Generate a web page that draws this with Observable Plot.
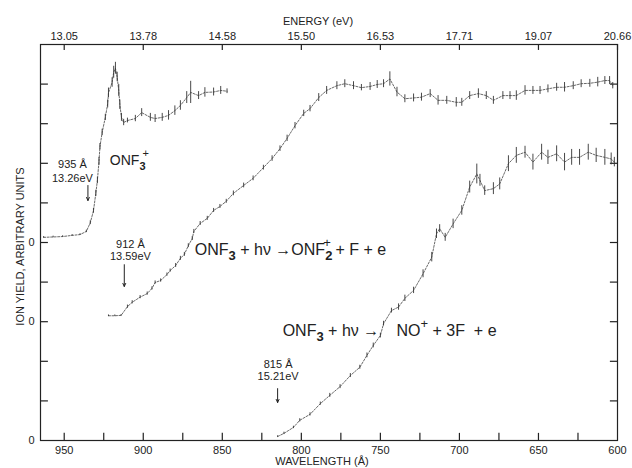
<!DOCTYPE html>
<html>
<head>
<meta charset="utf-8">
<script src="https://cdn.jsdelivr.net/npm/d3@7"></script>
<script src="https://cdn.jsdelivr.net/npm/@observablehq/plot@0.6"></script>
<style>
  body { margin: 0; background: #fff; }
  svg { display: block; }
</style>
</head>
<body>
<div id="chart"></div>
<script>
// ---------- data (wavelength in Å, ion yield in arbitrary units, offset curves) ----------
const onf3Wavelength = [963, 957, 951, 945, 940, 936, 933.5, 931.5, 930, 929, 928, 927.4, 926, 924, 922.5, 922, 919.7, 918.7, 917.6, 916.5, 915.5, 914.8, 913.8, 912.4, 910, 905, 901, 895.5, 892.5, 888, 884, 880, 876.5, 872.5, 870, 865, 861, 855.5, 851, 847];
const onf3Yield = [5.13, 5.14, 5.15, 5.18, 5.20, 5.28, 5.50, 5.80, 6.24, 6.57, 7.05, 7.42, 7.78, 8.16, 8.50, 8.78, 9.04, 9.30, 9.40, 9.18, 8.84, 8.48, 8.16, 8.03, 8.08, 8.13, 8.28, 8.16, 8.13, 8.16, 8.21, 8.33, 8.46, 8.66, 8.79, 8.71, 8.79, 8.80, 8.84, 8.82];
const onf3Err = [0.02, 0.02, 0.02, 0.02, 0.02, 0.03, 0.05, 0.06, 0.08, 0.08, 0.1, 0.08, 0.08, 0.08, 0.1, 0.12, 0.12, 0.15, 0.15, 0.12, 0.15, 0.12, 0.1, 0.08, 0.06, 0.08, 0.1, 0.1, 0.1, 0.1, 0.12, 0.12, 0.12, 0.15, 0.28, 0.1, 0.12, 0.1, 0.1, 0.06];

const onf2Wavelength = [922, 918, 914, 910, 907, 902, 897.5, 894.5, 892.5, 889, 885, 883, 879.5, 876.5, 874, 871.5, 869, 868, 864, 859.5, 855.5, 851.5, 847.5, 843, 836.5, 830.5, 824, 818.5, 813.5, 809, 804, 798.5, 794.5, 789, 784, 777.5, 772.5, 767, 762, 756.5, 752, 748, 744, 739.5, 734.5, 729, 724, 718.5, 713.5, 708, 702, 698.5, 693.5, 688, 683, 678.5, 672.5, 668, 664, 658.5, 653.5, 649, 644, 638.5, 633.5, 628, 623, 617.5, 612.5, 608, 605, 603];
const onf2Yield = [3.15, 3.15, 3.16, 3.38, 3.49, 3.62, 3.71, 3.84, 3.99, 4.04, 4.19, 4.29, 4.42, 4.60, 4.70, 4.92, 5.10, 5.28, 5.48, 5.61, 5.81, 5.91, 6.04, 6.24, 6.44, 6.62, 6.89, 7.12, 7.37, 7.63, 7.95, 8.26, 8.38, 8.66, 8.84, 8.96, 9.01, 8.96, 8.91, 8.94, 8.99, 9.01, 9.13, 8.80, 8.63, 8.65, 8.67, 8.76, 8.59, 8.59, 8.54, 8.54, 8.71, 8.76, 8.71, 8.59, 8.71, 8.71, 8.71, 8.84, 8.84, 8.84, 8.88, 8.92, 8.92, 8.96, 9.01, 9.02, 9.05, 9.09, 9.09, 8.96];
const onf2Err = [0.02, 0.02, 0.02, 0.04, 0.04, 0.04, 0.04, 0.04, 0.04, 0.04, 0.04, 0.04, 0.05, 0.05, 0.05, 0.05, 0.05, 0.05, 0.05, 0.05, 0.05, 0.05, 0.05, 0.06, 0.06, 0.06, 0.06, 0.07, 0.07, 0.08, 0.08, 0.08, 0.08, 0.1, 0.1, 0.1, 0.1, 0.1, 0.08, 0.1, 0.1, 0.1, 0.18, 0.12, 0.1, 0.1, 0.1, 0.1, 0.12, 0.1, 0.12, 0.1, 0.1, 0.12, 0.1, 0.1, 0.1, 0.1, 0.12, 0.12, 0.1, 0.1, 0.1, 0.1, 0.12, 0.1, 0.1, 0.1, 0.12, 0.1, 0.1, 0.08];

const noWavelength = [815, 811, 805, 801, 794.5, 788, 782, 775.5, 769, 763, 758.5, 754.5, 750, 748, 743, 738.5, 734.5, 729, 723, 717.5, 714.5, 712.5, 709, 704, 698.5, 693.5, 689, 687, 684, 678.5, 674.5, 669, 664, 658.5, 653.5, 648, 644, 638.5, 633.5, 629, 624, 618.5, 613.5, 608, 604, 602];
const noYield = [0.10, 0.18, 0.33, 0.51, 0.66, 0.93, 1.14, 1.36, 1.64, 1.85, 2.15, 2.40, 2.65, 2.95, 3.28, 3.37, 3.59, 3.79, 4.21, 4.63, 5.22, 5.35, 5.13, 5.47, 5.81, 6.40, 6.73, 6.57, 6.31, 6.36, 6.48, 6.99, 7.20, 7.28, 7.03, 7.28, 7.15, 7.24, 7.03, 7.15, 7.15, 7.28, 7.20, 7.15, 7.11, 7.03];
const noErr = [0.02, 0.03, 0.03, 0.04, 0.04, 0.04, 0.05, 0.05, 0.05, 0.05, 0.06, 0.06, 0.06, 0.06, 0.06, 0.08, 0.08, 0.08, 0.1, 0.12, 0.12, 0.1, 0.1, 0.12, 0.12, 0.15, 0.25, 0.15, 0.12, 0.15, 0.15, 0.2, 0.2, 0.15, 0.2, 0.2, 0.18, 0.2, 0.22, 0.2, 0.2, 0.2, 0.18, 0.2, 0.15, 0.12];

// axes
const wavelengthTicks = [950, 900, 850, 800, 750, 700, 650, 600];
const wavelengthMinorTicks = [950, 925, 900, 875, 850, 825, 800, 775, 750, 725, 700, 675, 650, 625];
const energyLabels = ["13.05", "13.78", "14.58", "15.50", "16.53", "17.71", "19.07", "20.66"];
const yTicks = [1, 2, 3, 4, 5, 6, 7, 8, 9];
const zeroTicks = [0, 3, 5];

// onset annotations
const onsetWavelengths = [935, 912, 815];
const onsetLabels = ["935 Å", "912 Å", "815 Å"];
const onsetEnergies = ["13.26eV", "13.59eV", "15.21eV"];
const arrowTop = [6.44, 4.44, 1.31];
const arrowBottom = [6.06, 3.89, 0.96];
const onsetLabelWavelength = [944.8, 908.1, 814.7];
const onsetLabelLine1 = [6.89, 4.87, 1.84];
const onsetLabelLine2 = [6.54, 4.55, 1.52];

// ---------- tables ----------
const mk = (W, U, E) => W.map((w, i) => ({w, u: U[i], e: E[i]}));
const curves = [mk(onf3Wavelength, onf3Yield, onf3Err), mk(onf2Wavelength, onf2Yield, onf2Err), mk(noWavelength, noYield, noErr)];
const onsets = onsetWavelengths.map((w, i) => ({
  w, top: arrowTop[i], bottom: arrowBottom[i],
  lw: onsetLabelWavelength[i], l1: onsetLabels[i], l2: onsetEnergies[i],
  y1: onsetLabelLine1[i], y2: onsetLabelLine2[i]
}));

const ink = "#222";
const font = "'Liberation Sans', Arial, sans-serif";
const xMin = 965, xMax = 600, yMin = 0, yMax = 10;
// inward tick lengths, in data units
const tickLenBottom = 0.18, tickLenTop = 0.15, tickLenLeft = 5, tickLenRight = 4.5;

const curveMarks = curves.flatMap(data => [
  Plot.line(data, {x: "w", y: "u", stroke: "#444", strokeWidth: 0.8, strokeDasharray: "2,1.5"}),
  Plot.ruleX(data, {x: "w", y1: d => d.u - d.e, y2: d => d.u + d.e, stroke: "#333", strokeWidth: 0.9})
]);

const plot = Plot.plot({
  width: 632, height: 468,
  marginLeft: 40, marginRight: 15, marginTop: 44, marginBottom: 28,
  style: {fontFamily: font, fontSize: "11px", color: ink, background: "#fff"},
  x: {domain: [xMin, xMax]},
  y: {domain: [yMin, yMax]},
  marks: [
    Plot.frame({stroke: ink, strokeWidth: 1.2}),
    // inward tick marks on all four sides
    Plot.ruleX(wavelengthMinorTicks, {x: d => d, y1: () => yMin, y2: () => yMin + tickLenBottom, stroke: ink, strokeWidth: 1.2}),
    Plot.ruleX(wavelengthTicks, {x: d => d, y1: () => yMax, y2: () => yMax - tickLenTop, stroke: ink, strokeWidth: 1.2}),
    Plot.ruleY(yTicks, {y: d => d, x1: () => xMin, x2: () => xMin - tickLenLeft, stroke: ink, strokeWidth: 1.2}),
    Plot.ruleY(yTicks, {y: d => d, x1: () => xMax, x2: () => xMax + tickLenRight, stroke: ink, strokeWidth: 1.2}),
    // tick labels
    Plot.axisX({anchor: "bottom", ticks: wavelengthTicks, tickSize: 0, tickPadding: 6, label: null, tickFormat: d => String(d)}),
    Plot.axisX({anchor: "top", ticks: wavelengthTicks, tickSize: 0, tickPadding: 5, label: null,
      tickFormat: d => energyLabels[wavelengthTicks.indexOf(d)]}),
    Plot.axisY({anchor: "left", ticks: zeroTicks, tickSize: 0, tickPadding: 6, label: null, tickFormat: () => "0"}),
    ...curveMarks,
    Plot.arrow(onsets, {x: "w", y1: "top", y2: "bottom", stroke: ink, strokeWidth: 1, headLength: 5, headAngle: 50}),
    Plot.text(onsets, {x: "lw", y: "y1", text: "l1", lineAnchor: "bottom", fontSize: 11, fill: ink}),
    Plot.text(onsets, {x: "lw", y: "y2", text: "l2", lineAnchor: "bottom", fontSize: 11, fill: ink}),
    Plot.text(["ENERGY (eV)"], {frameAnchor: "top", lineAnchor: "middle", dy: -23, dx: -11, text: d => d, fontSize: 11, fill: ink}),
    Plot.text(["WAVELENGTH (Å)"], {frameAnchor: "bottom", lineAnchor: "middle", dy: 21, dx: -7, text: d => d, fontSize: 11, fill: ink}),
    Plot.text(["ION YIELD, ARBITRARY UNITS"], {frameAnchor: "left", textAnchor: "middle", lineAnchor: "middle", dx: -20, dy: 4, rotate: -90, text: d => d, fontSize: 11, fill: ink})
  ]
});

document.getElementById("chart").appendChild(plot);

// ---------- rich-text reaction labels (sub/superscripts) ----------
const equations = [
  {w: 920.8, u: 6.94, size: 14, parts: [["ONF"], ["3", "sub"], ["+", "sup", -3]]},
  {w: 867.1, u: 4.67, size: 16, parts: [["ONF"], ["3", "sub"], [" + h\u03bd "], ["\u2192"], ["ONF"], ["2", "sub"], ["+", "sup", -9], [" + F + e"]]},
  {w: 811.5, u: 2.63, size: 16, parts: [["ONF"], ["3", "sub"], [" + h\u03bd \u2192"]]},
  {w: 739.5, u: 2.63, size: 16, parts: [["NO"], ["+", "sup"], [" + 3F  + e"]]}
];
const xs = d3.scaleLinear([xMin, xMax], [40, 617]);
const ys = d3.scaleLinear([yMin, yMax], [440, 44]);
const svg = d3.select(plot);
for (const eq of equations) {
  const t = svg.append("text")
    .attr("x", xs(eq.w)).attr("y", ys(eq.u))
    .attr("text-anchor", "start")
    .attr("font-family", font).attr("font-size", eq.size).attr("fill", ink)
    .style("white-space", "pre");
  let shift = 0;
  for (const [s, kind, dx] of eq.parts) {
    const target = kind === "sub" ? 5 : kind === "sup" ? -8 : 0;
    const ts = t.append("tspan").text(s).attr("dy", target - shift);
    if (kind) ts.attr("font-size", eq.size - 3);
    if (kind === "sub") ts.attr("font-weight", "bold");
    if (dx) ts.attr("dx", dx);
    shift = target;
  }
}
</script>
</body>
</html>
